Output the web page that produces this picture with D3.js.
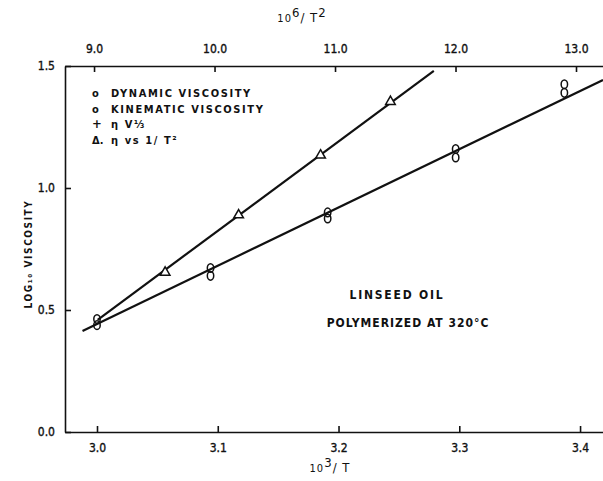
<!DOCTYPE html>
<html>
<head>
<meta charset="utf-8">
<script src="https://cdn.jsdelivr.net/npm/d3@7"></script>
<style>
  body { margin: 0; background: #fff; }
  svg text { font-family: "DejaVu Sans Condensed", "DejaVu Sans", sans-serif; fill: #111; }
  .axis text { font-size: 12px; stroke: #111; stroke-width: 0.35; }
  .axis path, .axis line { stroke: #111; stroke-width: 1.6; }
</style>
</head>
<body>
<div id="chart"></div>
<script>
// ---- data ----
// bottom axis: 10^3/T ; left axis: log10 viscosity
const invT = [3.0, 3.094, 3.191, 3.297, 3.387];
const dynamicVisc = [0.463, 0.672, 0.900, 1.160, 1.425];
const kinematicVisc = [0.438, 0.640, 0.875, 1.125, 1.390];
// top axis: 10^6/T^2
const invT2 = [9.59, 10.2, 10.88, 11.46];
const triVisc = [0.65, 0.885, 1.13, 1.35];
// fitted straight lines (end points)
const fitInvT = [2.988, 3.419];
const fitInvTVisc = [0.414, 1.443];
const fitInvT2 = [9.03, 11.82];
const fitInvT2Visc = [0.46, 1.48];
// ticks
const bottomTicks = [3.0, 3.1, 3.2, 3.3, 3.4];
const topTicks = [9.0, 10.0, 11.0, 12.0, 13.0];
const leftTicks = [0.0, 0.5, 1.0, 1.5];
const legendItems = ["DYNAMIC VISCOSITY", "KINEMATIC VISCOSITY", "η V⅓", "η vs 1/ T²"];

const W = 603, H = 481;
const plot = {left: 65, right: 603, top: 66, bottom: 432};

const svg = d3.select("#chart").append("svg")
    .attr("width", W).attr("height", H);

const x = d3.scaleLinear().domain([2.9735, 3.419]).range([plot.left, plot.right]);
const xTop = d3.scaleLinear().domain([8.759, 13.224]).range([plot.left, plot.right]);
const y = d3.scaleLinear().domain([0, 1.5]).range([plot.bottom, plot.top]);

// axes, ticks point inward
svg.append("g").attr("class", "axis")
    .attr("transform", "translate(0," + plot.bottom + ")")
    .call(d3.axisBottom(x).tickValues(bottomTicks).tickFormat(d3.format(".1f"))
      .tickSizeInner(-6).tickSizeOuter(0).tickPadding(11));

svg.append("g").attr("class", "axis")
    .attr("transform", "translate(0," + plot.top + ")")
    .call(d3.axisTop(xTop).tickValues(topTicks).tickFormat(d3.format(".1f"))
      .tickSizeInner(-6).tickSizeOuter(0).tickPadding(13));

svg.append("g").attr("class", "axis")
    .attr("transform", "translate(" + plot.left + ",0)")
    .call(d3.axisLeft(y).tickValues(leftTicks).tickFormat(d3.format(".1f"))
      .tickSizeInner(-6).tickSizeOuter(0).tickPadding(10));

// fitted lines
const line = d3.line();
svg.append("path")
    .attr("d", line(fitInvT.map((d, i) => [x(d), y(fitInvTVisc[i])])))
    .attr("fill", "none").attr("stroke", "#111").attr("stroke-width", 2.2);
svg.append("path")
    .attr("d", line(fitInvT2.map((d, i) => [xTop(d), y(fitInvT2Visc[i])])))
    .attr("fill", "none").attr("stroke", "#111").attr("stroke-width", 2.2);

// circles (stacked "8" look)
const drawCircles = vals => {
  svg.append("g").selectAll("ellipse")
    .data(invT.map((d, i) => [d, vals[i]]))
    .join("ellipse")
    .attr("cx", d => x(d[0])).attr("cy", d => y(d[1]))
    .attr("rx", 3.2).attr("ry", 4.3)
    .attr("fill", "none").attr("stroke", "#111").attr("stroke-width", 1.5);
};
drawCircles(dynamicVisc);
drawCircles(kinematicVisc);

// triangles
svg.append("g").selectAll("path")
    .data(invT2.map((d, i) => [d, triVisc[i]]))
    .join("path")
    .attr("d", d3.symbol(d3.symbolTriangle, 40))
    .attr("transform", d => "translate(" + xTop(d[0]) + "," + (y(d[1]) - 1) + ")")
    .attr("fill", "#fff").attr("stroke", "#111").attr("stroke-width", 1.5);

// legend
const legend = svg.append("g").attr("transform", "translate(92,97)");
const legSym = ["o", "o", "+", "Δ."];
legendItems.forEach((t, i) => {
  const row = legend.append("g").attr("transform", "translate(0," + (i * 15.5) + ")");
  row.append("text").attr("x", 0).attr("font-size", i == 2 ? 13 : 11)
      .attr("font-weight", "bold").text(legSym[i]);
  row.append("text").attr("x", 19).attr("font-size", 11).attr("font-weight", "bold")
      .attr("letter-spacing", "1.6px").text(t);
});

// axis titles with raised exponents
const title = (tx, ty, parts) => {
  const t = svg.append("text").attr("x", tx).attr("y", ty).attr("text-anchor", "middle")
      .attr("font-size", 11).attr("letter-spacing", "1px");
  parts.forEach(p => {
    const s = t.append("tspan").text(p[0]);
    if (p[1]) s.attr("font-size", 13).attr("dy", p[1]);
  });
  return t;
};
title(302, 22, [["10"], ["6", -5], ["/ T", 5], ["2", -5]]);
title(330, 472, [["10"], ["3", -5], ["/ T", 5]]);
svg.append("text")
    .attr("transform", "translate(32,254) rotate(-90)")
    .attr("text-anchor", "middle").attr("font-size", 10).attr("font-weight", "bold")
    .attr("letter-spacing", "1.6px")
    .text("LOG₁₀  VISCOSITY");

// annotation
svg.append("text").attr("x", 397).attr("y", 299).attr("text-anchor", "middle")
    .attr("font-size", 12).attr("font-weight", "bold")
    .attr("letter-spacing", "1.8px").text("LINSEED  OIL");
svg.append("text").attr("x", 408).attr("y", 327).attr("text-anchor", "middle")
    .attr("font-size", 12).attr("font-weight", "bold")
    .attr("letter-spacing", "1px").text("POLYMERIZED AT 320°C");
</script>
</body>
</html>
